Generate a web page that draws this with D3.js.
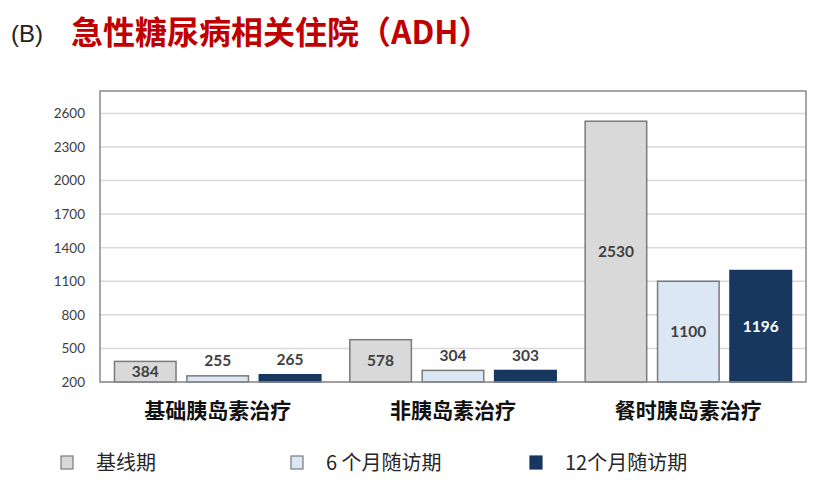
<!DOCTYPE html>
<html>
<head>
<meta charset="utf-8">
<script src="https://cdn.jsdelivr.net/npm/d3@7/dist/d3.min.js"></script>
<style>
  html, body { margin: 0; padding: 0; background: #fff; }
  svg { display: block; }
</style>
</head>
<body>
<svg id="chart" width="831" height="490"></svg>
<script>
const categories = ["基础胰岛素治疗", "非胰岛素治疗", "餐时胰岛素治疗"];
const seriesNames = ["基线期", "6 个月随访期", "12个月随访期"];
const baseline = [384, 578, 2530];
const month6 = [255, 304, 1100];
const month12 = [265, 303, 1196];
const yTicks = [200, 500, 800, 1100, 1400, 1700, 2000, 2300, 2600];

const seriesValues = [baseline, month6, month12];
const fills = ["#d9d9d9", "#dbe7f5", "#17375e"];
const strokes = ["#7a7a7a", "#7a7a7a", "#17375e"];
const labelColors = ["#404040", "#404040", "#ffffff"];

const svg = d3.select("#chart");
const plot = { left: 100, right: 806, top: 91, bottom: 382 };

// Title
svg.append("text").attr("x", 11).attr("y", 42)
  .attr("font-family", "Liberation Sans, Arial, sans-serif")
  .attr("font-size", 24).attr("fill", "#222").text("(B)");
svg.append("text").attr("x", 71).attr("y", 44)
  .attr("font-family", "Noto Sans CJK SC, sans-serif")
  .attr("font-weight", 700)
  .attr("font-size", 32).attr("fill", "#c00000")
  .text("急性糖尿病相关住院（ADH）");

const x0 = d3.scaleBand().domain(categories).range([plot.left, plot.right]).padding(0);
const x1 = d3.scaleBand().domain(seriesNames).range([0, x0.bandwidth()])
  .paddingInner(0.15).paddingOuter(0.2);
const y = d3.scaleLinear().domain([200, 2800]).range([plot.bottom, plot.top]);

// Gridlines
svg.append("g").selectAll("line").data(yTicks).join("line")
  .attr("x1", plot.left).attr("x2", plot.right)
  .attr("y1", d => y(d)).attr("y2", d => y(d))
  .attr("stroke", "#d9d9d9").attr("stroke-width", 1.5);

// Y axis labels
const yAxis = d3.axisLeft(y).tickValues(yTicks).tickFormat(d3.format("d"))
  .tickSize(0).tickPadding(15);
const yg = svg.append("g").attr("transform", `translate(${plot.left},0)`).call(yAxis);
yg.select(".domain").remove();
yg.selectAll("text")
  .attr("font-family", "Lato, sans-serif").attr("font-size", 13.5)
  .attr("fill", "#404040");

// Bars
const data = [];
categories.forEach((c, ci) => {
  seriesNames.forEach((s, si) => {
    data.push({ cat: c, ser: s, si, value: seriesValues[si][ci] });
  });
});

svg.append("g").selectAll("rect").data(data).join("rect")
  .attr("x", d => x0(d.cat) + x1(d.ser))
  .attr("width", x1.bandwidth())
  .attr("y", d => y(d.value))
  .attr("height", d => y(200) - y(d.value))
  .attr("fill", d => fills[d.si])
  .attr("stroke", d => strokes[d.si])
  .attr("stroke-width", 1.5);

// Value labels
svg.append("g").selectAll("text").data(data).join("text")
  .attr("x", d => x0(d.cat) + x1(d.ser) + x1.bandwidth() / 2)
  .attr("y", d => {
    const h = y(200) - y(d.value);
    return h > 16 ? y(d.value) + h / 2 : y(d.value) - 15;
  })
  .attr("dy", "0.36em")
  .attr("text-anchor", "middle")
  .attr("font-family", "Lato, sans-serif")
  .attr("font-weight", 700)
  .attr("font-size", 15.5)
  .attr("fill", d => {
    const h = y(200) - y(d.value);
    return h > 16 ? labelColors[d.si] : "#404040";
  })
  .text(d => d.value);

// Plot border
svg.append("rect")
  .attr("x", plot.left).attr("y", plot.top)
  .attr("width", plot.right - plot.left).attr("height", plot.bottom - plot.top)
  .attr("fill", "none").attr("stroke", "#8a8a8a").attr("stroke-width", 1.5);

// Category labels
svg.append("g").selectAll("text").data(categories).join("text")
  .attr("x", d => x0(d) + x0.bandwidth() / 2)
  .attr("y", 410)
  .attr("dy", "0.36em")
  .attr("text-anchor", "middle")
  .attr("font-family", "Noto Sans CJK SC, sans-serif")
  .attr("font-weight", 700)
  .attr("font-size", 21)
  .attr("fill", "#111")
  .text(d => d);

// Legend
const legendX = [61, 291, 530];
const lg = svg.append("g").selectAll("g").data(seriesNames).join("g")
  .attr("transform", (d, i) => `translate(${legendX[i]},456)`);
lg.append("rect").attr("width", 12).attr("height", 13)
  .attr("fill", (d, i) => fills[i])
  .attr("stroke", (d, i) => i === 2 ? fills[2] : "#7a7a7a")
  .attr("stroke-width", 1.2);
lg.append("text").attr("x", 35).attr("y", 7).attr("dy", "0.36em")
  .attr("font-family", "Noto Sans CJK SC, Liberation Sans, sans-serif")
  .attr("font-size", 20).attr("fill", "#262626")
  .text(d => d);
</script>
</body>
</html>
